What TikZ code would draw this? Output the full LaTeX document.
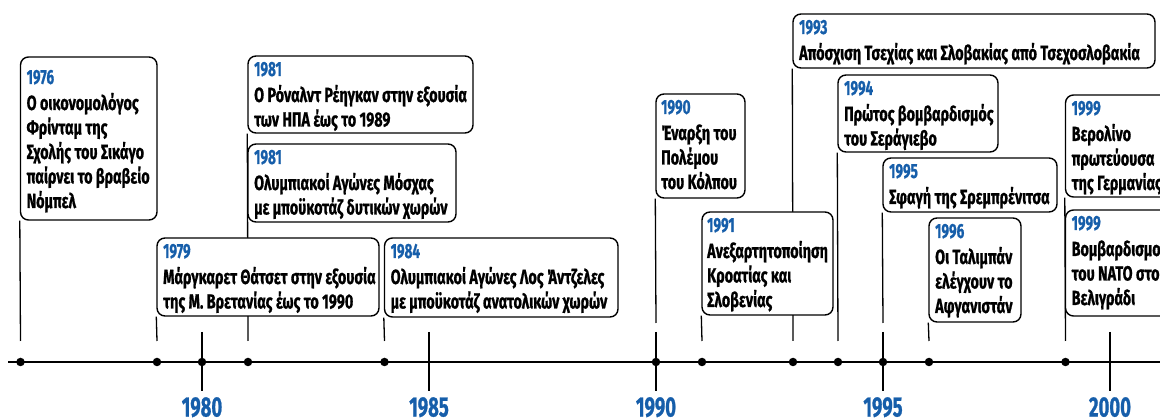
\documentclass[tikz,border=0pt]{standalone}
\usepackage{fontspec}
\usetikzlibrary{fit}
\newfontfamily\tlfont{Fira Sans}[FakeStretch=0.70,FakeBold=0.8]
\newfontfamily\yrfont{Fira Sans}[FakeStretch=0.66,FakeBold=0.8]
\definecolor{yrblue}{RGB}{22,94,170}
\newcommand\evtab[1]{\begin{tabular}[t]{@{}l@{}}#1\end{tabular}}
\newcommand\yr[1]{{\yrfont\textcolor{yrblue}{#1}}\\[1.5pt]}
\pgfdeclarelayer{bg}
\pgfsetlayers{bg,main}
\tikzset{
  evbox/.style={draw=black, line width=1.4pt, rounded corners=8pt, fill=white, inner sep=0pt},
  evtext/.style={inner sep=0pt, anchor=base west, font={\tlfont\bfseries\fontsize{20.5}{24.5}\selectfont}},
  evline/.style={line width=1.3pt},
  tickline/.style={line width=1.3pt},
  axisline/.style={line width=2pt},
  dot/.style={circle, fill=black, inner sep=0pt, minimum size=8.5pt},
  yrlab/.style={inner sep=0pt, anchor=north, text=yrblue, font={\yrfont\bfseries\fontsize{28}{30}\selectfont}},
}
\begin{document}
\begin{tikzpicture}[x=1pt,y=-1pt]
\useasboundingbox (0,0) rectangle (1160,419);
\clip (0,0) rectangle (1160,419);

% ---- boxes ----
\node[evbox, fit={(20.5,57) (157,220)}] (b1976) {};
\node[evtext] (t1976) at (26.5,84) {\evtab{\yr{1976}Ο οικονομολόγος\\Φρίνταμ της\\Σχολής του Σικάγο\\παίρνει το βραβείο\\Νόμπελ}};

\node[evbox, fit={(157,238) (379,316)}] (b1979) {};
\node[evtext] (t1979) at (163,258) {\evtab{\yr{1979}Μάργκαρετ Θάτσετ στην εξουσία\\της Μ. Βρετανίας έως το 1990}};

\node[evbox, fit={(248,56) (473,133)}] (b1981a) {};
\node[evtext] (t1981a) at (254,76) {\evtab{\yr{1981}Ο Ρόναλντ Ρέηγκαν στην εξουσία\\των ΗΠΑ έως το 1989}};

\node[evbox, fit={(248,144) (456,222)}] (b1981b) {};
\node[evtext] (t1981b) at (254,164) {\evtab{\yr{1981}Ολυμπιακοί Αγώνες Μόσχας\\με μποϋκοτάζ δυτικών χωρών}};

\node[evbox, fit={(384.5,238) (618,317)}] (b1984) {};
\node[evtext] (t1984) at (390.5,258) {\evtab{\yr{1984}Ολυμπιακοί Αγώνες Λος Άντζελες\\με μποϋκοτάζ ανατολικών χωρών}};

\node[evbox, fit={(656,94) (745,198)}] (b1990) {};
\node[evtext] (t1990) at (661,114) {\evtab{\yr{1990}Έναρξη του\\Πολέμου\\του Κόλπου}};

\node[evbox, fit={(702,212) (833,315)}] (b1991) {};
\node[evtext] (t1991) at (707,232) {\evtab{\yr{1991}Ανεξαρτητοποίηση\\Κροατίας και\\Σλοβενίας}};

\node[evbox, fit={(793,14) (1155,68)}] (b1993) {};
\node[evtext] (t1993) at (799,34) {\evtab{\yr{1993}Απόσχιση Τσεχίας και Σλοβακίας από Τσεχοσλοβακία}};

\node[evbox, fit={(838,75) (998,152)}] (b1994) {};
\node[evtext] (t1994) at (844,95) {\evtab{\yr{1994}Πρώτος βομβαρδισμός\\του Σεράγιεβο}};

\node[evbox, fit={(883,158) (1057,212)}] (b1995) {};
\node[evtext] (t1995) at (889,178) {\evtab{\yr{1995}Σφαγή της Σρεμπρένιτσα}};

\node[evbox, fit={(929,218) (1021,322)}] (b1996) {};
\node[evtext] (t1996) at (935,238) {\evtab{\yr{1996}Οι Ταλιμπάν\\ελέγχουν το\\Αφγανιστάν}};

\node[evbox, fit={(1065.5,95) (1210,197)}] (b1999a) {};
\node[evtext] (t1999a) at (1071.5,115) {\evtab{\yr{1999}Βερολίνο\\πρωτεύουσα\\της Γερμανίας}};

\node[evbox, fit={(1065.5,210) (1210,316)}] (b1999b) {};
\node[evtext] (t1999b) at (1071.5,230) {\evtab{\yr{1999}Βομβαρδισμοί\\του ΝΑΤΟ στο\\Βελιγράδι}};

% ---- axis ----
\coordinate (axL) at (8,362);
\coordinate (axR) at (1160,362);
\draw[axisline] (axL) -- (axR);

\foreach \n/\x in {1976/20.5,1979/157,1980/202,1981/248,1984/384.5,1990/656,1991/702,1993/793,1994/838,1995/883,1996/929,1999/1065.5}
  \node[dot] (d\n) at (\x,362) {};

% ---- year ticks and labels ----
\foreach \n/\x in {1980/202,1985/429,1990/656,1995/883,2000/1110}{
  \coordinate (ta\n) at (\x,332);
  \coordinate (tb\n) at (\x,391);
  \draw[tickline] (ta\n) -- (tb\n);
  \node[yrlab] (l\n) at (\x,397) {\n};
}

% ---- event connectors (behind boxes) ----
\coordinate (e1976) at (20.5,341);
\coordinate (e1979) at (157,341);
\coordinate (e1981) at (248,341);
\coordinate (e1984) at (384.5,341);
\coordinate (e1990) at (656,323);
\coordinate (e1991) at (702,341);
\coordinate (e1993) at (793,341);
\coordinate (e1994) at (838,341);
\coordinate (e1995) at (883,323);
\coordinate (e1996) at (929,341);
\coordinate (e1999) at (1065.5,341);
\begin{pgfonlayer}{bg}
\draw[evline] (b1976.south west) -- (e1976);
\draw[evline] (b1979.south west) -- (e1979);
\draw[evline] (b1981a.south west) -- (e1981);
\draw[evline] (b1984.south west) -- (e1984);
\draw[evline] (b1990.south west) -- (e1990);
\draw[evline] (b1991.south west) -- (e1991);
\draw[evline] (b1993.south west) -- (e1993);
\draw[evline] (b1994.south west) -- (e1994);
\draw[evline] (b1995.south west) -- (e1995);
\draw[evline] (b1996.south west) -- (e1996);
\draw[evline] (b1999a.south west) -- (e1999);
\end{pgfonlayer}
\end{tikzpicture}
\end{document}
